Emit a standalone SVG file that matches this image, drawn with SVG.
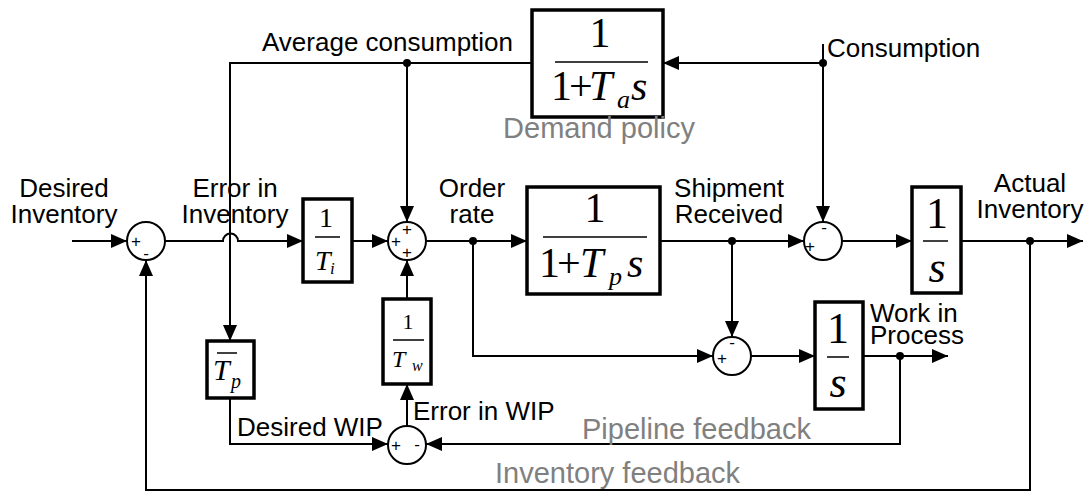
<svg xmlns="http://www.w3.org/2000/svg" width="1089" height="493" viewBox="0 0 1089 493">
  <style>
    .wire { fill: none; stroke: #000; stroke-width: 2; }
    .arr { marker-end: url(#head); }
    .box { fill: #fff; stroke: #000; stroke-width: 3.5; }
    .sum { fill: #fff; stroke: #000; stroke-width: 2; }
    .bar { stroke: #000; stroke-width: 1.5; }
    .dot { fill: #000; }
    .lbl { font-family: "Liberation Sans", Arial, sans-serif; font-size: 26px; fill: #000; }
    .mid { text-anchor: middle; }
    .grey { font-family: "Liberation Sans", Arial, sans-serif; font-size: 29px; fill: #808080; }
    .sign { font-family: "Liberation Sans", Arial, sans-serif; font-size: 17px; fill: #000; text-anchor: middle; }
    .math { font-family: "Liberation Serif", "Times New Roman", serif; fill: #000; }
    .it { font-style: italic; }
  </style>
  <defs>
    <marker id="head" markerUnits="userSpaceOnUse" markerWidth="16" markerHeight="14" refX="16" refY="7" orient="auto">
      <path d="M0,0 L16,7 L0,14 z" fill="#000"/>
    </marker>
  </defs>

  <!-- connectors -->
  <g id="connectors">
    <!-- desired inventory input -->
    <path class="wire arr" d="M72,241 H127"/>
    <!-- error in inventory, hopping over the average-consumption wire -->
    <path class="wire arr" d="M165,241 H223 A7.5,7.5 0 0 1 238,241 H303"/>
    <!-- 1/Ti to the three-input summer -->
    <path class="wire arr" d="M352,241 H388"/>
    <!-- order rate to pipeline delay -->
    <path class="wire arr" d="M426,241 H527"/>
    <!-- order rate branch to WIP summer -->
    <path class="wire arr" d="M473,241 V356 H713"/>
    <!-- shipment received to inventory summer -->
    <path class="wire arr" d="M660,241 H804"/>
    <!-- shipment received branch to WIP summer -->
    <path class="wire arr" d="M732,241 V337"/>
    <!-- inventory summer to integrator -->
    <path class="wire arr" d="M842,241 H912"/>
    <!-- actual inventory output -->
    <path class="wire arr" d="M961,241 H1083"/>
    <!-- WIP summer to integrator -->
    <path class="wire arr" d="M751,356 H815"/>
    <!-- work in process output -->
    <path class="wire arr" d="M863,356 H948"/>
    <!-- pipeline feedback -->
    <path class="wire arr" d="M900,356 V444 H426"/>
    <!-- inventory feedback -->
    <path class="wire arr" d="M1030,241 V490 H146 V260"/>
    <!-- consumption into demand policy and inventory summer -->
    <path class="wire arr" d="M823,44 V222"/>
    <path class="wire arr" d="M823,63 H663"/>
    <!-- average consumption -->
    <path class="wire arr" d="M532,63 H230 V341"/>
    <path class="wire arr" d="M407,63 V222"/>
    <!-- desired WIP -->
    <path class="wire arr" d="M230,398 V444 H388"/>
    <!-- error in WIP -->
    <path class="wire arr" d="M407,426 V384"/>
    <path class="wire arr" d="M407,299 V260"/>
    <!-- junction dots -->
    <circle class="dot" cx="407" cy="63" r="4"/>
    <circle class="dot" cx="823" cy="63" r="4"/>
    <circle class="dot" cx="473" cy="241" r="4"/>
    <circle class="dot" cx="732" cy="241" r="4"/>
    <circle class="dot" cx="1030" cy="241" r="4"/>
    <circle class="dot" cx="900" cy="356" r="4"/>
  </g>

  <!-- summing junctions -->
  <g id="sum-inventory-error">
    <circle class="sum" cx="146" cy="241" r="19"/>
    <text class="sign" x="136" y="247">+</text>
    <text class="sign" x="146" y="259">-</text>
  </g>
  <g id="sum-order-rate">
    <circle class="sum" cx="407" cy="241" r="19"/>
    <text class="sign" x="407" y="235">+</text>
    <text class="sign" x="396" y="247">+</text>
    <text class="sign" x="407" y="258">+</text>
  </g>
  <g id="sum-inventory">
    <circle class="sum" cx="823" cy="241" r="19"/>
    <text class="sign" x="810" y="252">+</text>
    <text class="sign" x="824" y="233">-</text>
  </g>
  <g id="sum-wip">
    <circle class="sum" cx="732" cy="356" r="19"/>
    <text class="sign" x="722" y="364">+</text>
    <text class="sign" x="732" y="348">-</text>
  </g>
  <g id="sum-wip-error">
    <circle class="sum" cx="407" cy="445" r="19"/>
    <text class="sign" x="396" y="451">+</text>
    <text class="sign" x="417" y="450">-</text>
  </g>

  <!-- transfer blocks -->
  <g id="block-demand-policy">
    <rect class="box" x="532" y="10" width="131" height="107"/>
    <text class="math" x="600" y="47" font-size="42" text-anchor="middle">1</text>
    <line class="bar" x1="555" y1="62" x2="648" y2="62"/>
    <text class="math" font-size="42" y="100"><tspan x="551">1</tspan><tspan x="569">+</tspan><tspan class="it" x="589">T</tspan><tspan class="it" x="617" y="108" font-size="26">a</tspan><tspan class="it" x="631" y="100">s</tspan></text>
  </g>
  <g id="block-inventory-gain">
    <rect class="box" x="303" y="199" width="49" height="83"/>
    <text class="math" x="326" y="227" font-size="28" text-anchor="middle">1</text>
    <line class="bar" x1="315" y1="237" x2="340" y2="237"/>
    <text class="math it" font-size="28" y="270"><tspan x="315">T</tspan><tspan x="330" y="274" font-size="17">i</tspan></text>
  </g>
  <g id="block-pipeline-delay">
    <rect class="box" x="527" y="187" width="133" height="107"/>
    <text class="math" x="595" y="222" font-size="42" text-anchor="middle">1</text>
    <line class="bar" x1="543" y1="237" x2="647" y2="237"/>
    <text class="math" font-size="42" y="277"><tspan x="539">1</tspan><tspan x="557">+</tspan><tspan class="it" x="580">T</tspan><tspan class="it" x="609" y="285" font-size="26">p</tspan><tspan class="it" x="627" y="277">s</tspan></text>
  </g>
  <g id="block-inventory-integrator">
    <rect class="box" x="912" y="187" width="49" height="106"/>
    <text class="math" x="937" y="228" font-size="44" text-anchor="middle">1</text>
    <line class="bar" x1="923" y1="241" x2="948" y2="241"/>
    <text class="math it" x="937" y="282" font-size="44" text-anchor="middle">s</text>
  </g>
  <g id="block-wip-integrator">
    <rect class="box" x="815" y="302" width="48" height="107"/>
    <text class="math" x="838" y="343" font-size="44" text-anchor="middle">1</text>
    <line class="bar" x1="827" y1="357" x2="849" y2="357"/>
    <text class="math it" x="838" y="397" font-size="44" text-anchor="middle">s</text>
  </g>
  <g id="block-desired-wip">
    <rect class="box" x="207" y="341" width="47" height="57"/>
    <line class="bar" x1="217" y1="353" x2="237" y2="353"/>
    <text class="math it" font-size="30" y="380"><tspan x="213">T</tspan><tspan x="231" y="388" font-size="20">p</tspan></text>
  </g>
  <g id="block-wip-gain">
    <rect class="box" x="383" y="299" width="48" height="85"/>
    <text class="math" x="408" y="329" font-size="22" text-anchor="middle">1</text>
    <line class="bar" x1="393" y1="340" x2="424" y2="340"/>
    <text class="math it" font-size="24" y="367"><tspan x="392">T</tspan><tspan x="412" y="371" font-size="16">w</tspan></text>
  </g>

  <!-- signal labels -->
  <g id="labels">
    <text class="lbl mid" x="64" y="197">Desired</text>
    <text class="lbl mid" x="64" y="223">Inventory</text>
    <text class="lbl mid" x="235" y="197">Error in</text>
    <text class="lbl mid" x="235" y="223">Inventory</text>
    <text class="lbl mid" x="472" y="197">Order</text>
    <text class="lbl mid" x="472" y="223">rate</text>
    <text class="lbl mid" x="729" y="197">Shipment</text>
    <text class="lbl mid" x="729" y="223">Received</text>
    <text class="lbl mid" x="1030" y="192">Actual</text>
    <text class="lbl mid" x="1030" y="218">Inventory</text>
    <text class="lbl" x="262" y="51">Average consumption</text>
    <text class="lbl" x="827" y="57">Consumption</text>
    <text class="lbl" x="870" y="322" font-size="23">Work in</text>
    <text class="lbl" x="870" y="344" font-size="23">Process</text>
    <text class="lbl" x="413" y="420">Error in WIP</text>
    <text class="lbl" x="237" y="436">Desired WIP</text>
    <text class="grey mid" x="599" y="138">Demand policy</text>
    <text class="grey" x="582" y="439">Pipeline feedback</text>
    <text class="grey" x="495" y="483">Inventory feedback</text>
  </g>
</svg>
